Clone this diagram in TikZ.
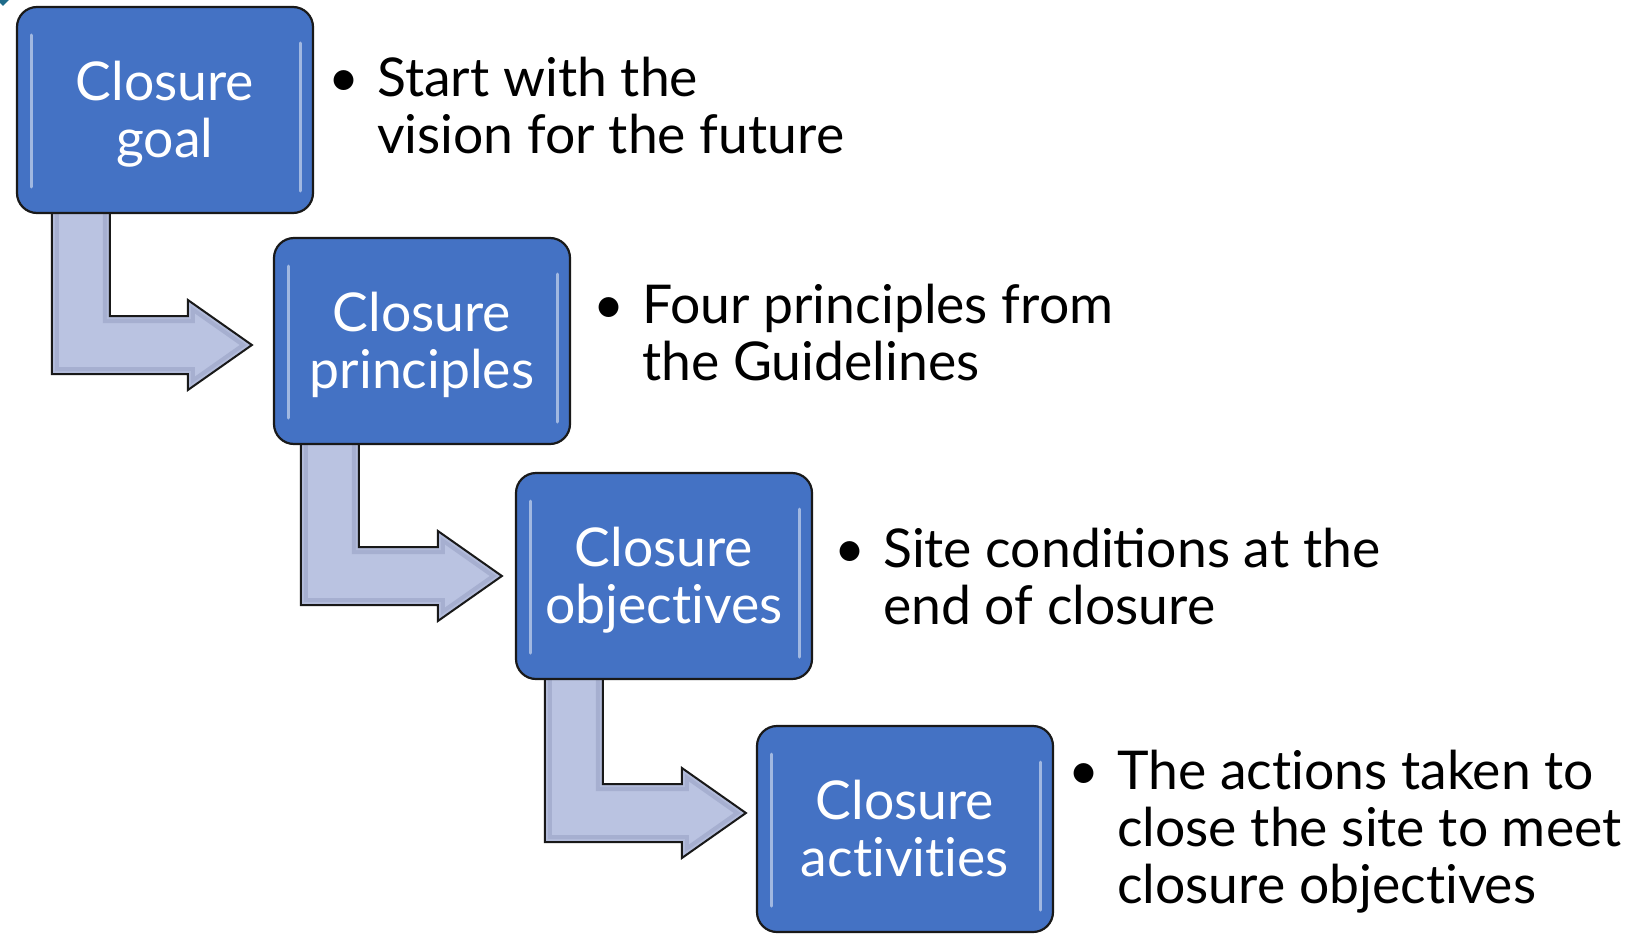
\documentclass[tikz,border=0pt]{standalone}
\usepackage{fontspec}
\setmainfont{Lato}[Ligatures=NoCommon]
\usetikzlibrary{calc,backgrounds}

\definecolor{stageblue}{HTML}{4472C4}
\definecolor{arrowfill}{HTML}{BAC3E1}
\definecolor{arrowedge}{HTML}{8E98BC}
\definecolor{cornerteal}{HTML}{1F6B8A}

\tikzset{
    stagebox/.style={rounded corners=20pt, draw=black!90, line width=2.2pt,
        fill=stageblue, text=white, align=center, inner sep=0pt,
        minimum width=296pt, minimum height=206pt,
        text height=105pt, text depth=10pt,
        font=\fontsize{53.5}{57}\selectfont,
        path picture={
            \draw[white, opacity=.5, line width=3pt, line cap=round]
                ([xshift=14pt,yshift=-28pt]path picture bounding box.north west) --
                ([xshift=14pt,yshift=26pt]path picture bounding box.south west)
                ([xshift=-13pt,yshift=-36pt]path picture bounding box.north east) --
                ([xshift=-13pt,yshift=22pt]path picture bounding box.south east);
        }},
    bentarrow/.style={draw=black!90, line width=2pt, line join=miter},
    bullettext/.style={anchor=base west, inner sep=0pt, font=\fontsize{53.5}{57}\selectfont}
}

\begin{document}
\begin{tikzpicture}[x=1pt, y=-1pt]
                            \useasboundingbox (0,0) rectangle (1632,934);
                            \fill[cornerteal] (0,0) -- (9,0) -- (3,6) -- (0,3) -- cycle;

                            \foreach \nm/\cx/\cy/\txt in {goal/165/110/{Closure\\goal},
                                    principles/422/341/{Closure\\principles},
                                    objectives/664/576/{Closure\\objectives},
                                    activities/905/829/{Closure\\activities}}
                                \node[stagebox] (\nm) at (\cx,\cy) {\txt};

                            % bent arrows sit under the boxes
                            \begin{scope}[on background layer]
                                \foreach \src/\dst/\off/\dc/\gp in {goal/principles/36/4/21,
                                        principles/objectives/28/0/13,
                                        objectives/activities/30/-16/10} {
                                    \path[save path=\arrowpath] let \p1=(\src.south west), \p3=($(\dst.west)+(-\gp,\dc)$) in
                                        (\x1+\off pt,\y1+10pt) -- (\x1+\off pt,\y3-29pt) -- (\x3-64pt,\y3-29pt)
                                        -- (\x3-64pt,\y3-45pt) -- (\x3,\y3) -- (\x3-64pt,\y3+45pt) -- (\x3-64pt,\y3+29pt)
                                        -- (\x1+\off pt+58pt,\y3+29pt) -- (\x1+\off pt+58pt,\y1+10pt) -- cycle;
                                    \fill[arrowfill, use path=\arrowpath];
                                    \begin{scope}
                                        \clip[use path=\arrowpath];
                                        \draw[arrowedge, opacity=.45, line width=14pt, line join=miter, use path=\arrowpath];
                                        \draw[arrowfill, opacity=.6, line width=6pt, line join=miter, use path=\arrowpath];
                                    \end{scope}
                                    \draw[bentarrow, use path=\arrowpath];
                                }
                            \end{scope}

                            \foreach \nm/\tx/\ty/\txt in {goalnote/328/96/{Start with the\\vision for the future},
                                    principlesnote/593/323/{Four principles from\\the Guidelines},
                                    objectivesnote/834/567/{Site {\addfontfeatures{Ligatures=Common}conditions} at the\\end of closure},
                                    activitiesnote/1068/789/{The actions taken to\\close the site to meet\\closure objectives}}
                                \node[bullettext] (\nm) at (\tx,\ty)
                                    {\makebox[49pt][l]{\textbullet}\begin{tabular}[t]{@{}l@{}}\txt\end{tabular}};
                        \end{tikzpicture}
\end{document}
